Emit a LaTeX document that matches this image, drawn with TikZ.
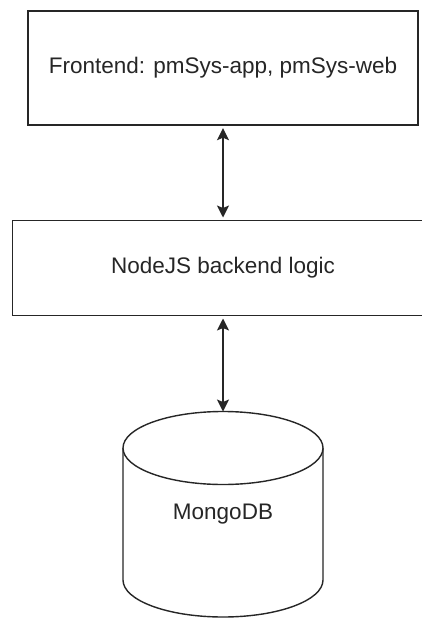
\documentclass[tikz,border=0pt]{standalone}
\usepackage{fontspec}
\setmainfont{Liberation Sans}
\usetikzlibrary{arrows.meta}
\begin{document}
\begin{tikzpicture}[x=1pt,y=-1pt,
  boxstyle/.style={draw=black!85, line width=1.4pt, fill=white, inner sep=0pt,
    font=\fontsize{22.5}{26}\selectfont, text=black!85},
  link/.style={draw=black!85, line width=1.4pt,
    {Stealth[length=12pt,width=12pt,inset=2.5pt]}-{Stealth[length=12pt,width=12pt,inset=2.5pt]}},
  dbline/.style={draw=black!85, line width=1.4pt}
]
\useasboundingbox (0,0) rectangle (422,618);
\node[boxstyle, minimum width=390pt, minimum height=114pt] (front) at (223,68) {Frontend: pmSys-app, pmSys-web};
\node[boxstyle, minimum width=420.6pt, minimum height=94.6pt] (back) at (223,268) {NodeJS backend logic};
% cylinder
\draw[dbline, fill=white] (123,448) -- (123,580) arc[start angle=180, end angle=360, x radius=100, y radius=-37] -- (323,448);
\draw[dbline, fill=white] (223,448) ellipse [x radius=100, y radius=36.5];
\coordinate (dbtop) at (223,411.5);
\node[font=\fontsize{22.5}{26}\selectfont, text=black!85, inner sep=0pt] (db) at (223,514) {MongoDB};
\draw[link, shorten <=2.5pt, shorten >=2.5pt] (front.south) -- (back.north);
\draw[link, shorten <=2.5pt] (back.south) -- (dbtop);
\end{tikzpicture}
\end{document}
